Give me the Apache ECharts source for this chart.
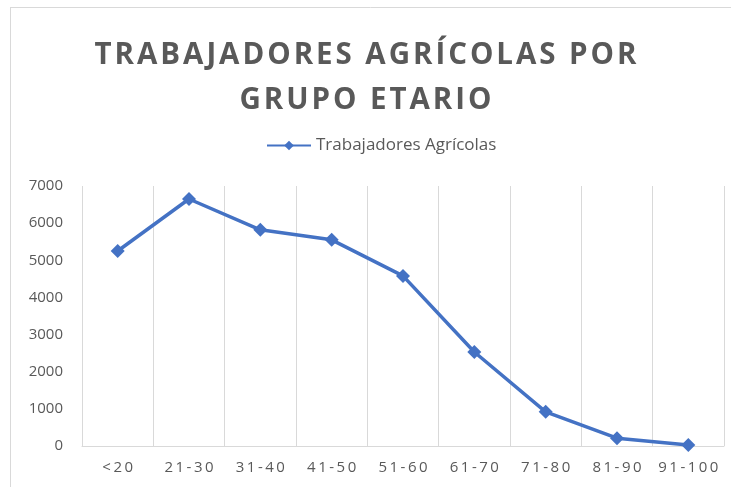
<!DOCTYPE html>
<html>
<head>
<meta charset="utf-8">
<script src="https://cdn.jsdelivr.net/npm/echarts@6/dist/echarts.min.js"></script>
<style>
  html, body { margin: 0; padding: 0; background: #fff; }
  #chart { width: 731px; height: 487px; }
</style>
</head>
<body>
<div id="chart"></div>
<script>
// grupos de edad y numero de trabajadores
var categorias = ['<20', '21-30', '31-40', '41-50', '51-60', '61-70', '71-80', '81-90', '91-100'];
var trabajadores = [5250, 6650, 5820, 5550, 4580, 2530, 920, 210, 30];
var yTicks = [0, 1000, 2000, 3000, 4000, 5000, 6000, 7000];

var gris = '#595959';
var azul = '#4472C4';

// espaciado entre letras como en el original
function espaciar(s, sep) {
  return s.split('\n').map(function (l) { return l.split('').join(sep); }).join('\n');
}

var chart = echarts.init(document.getElementById('chart'));
chart.setOption({
  animation: false,
  backgroundColor: '#fff',
  title: {
    text: espaciar('TRABAJADORES AGRÍCOLAS POR\nGRUPO ETARIO', '\u200A'),
    left: 'center',
    top: 28,
    textStyle: {
      fontFamily: 'Open Sans',
      fontWeight: 'bold',
      fontSize: 29.5,
      lineHeight: 45,
      color: gris
    }
  },
  legend: {
    top: 132,
    left: 261,
    itemWidth: 44,
    itemHeight: 12,
    itemGap: 4,
    textStyle: { fontFamily: 'Open Sans', fontSize: 17, color: gris },
    data: ['Trabajadores Agrícolas']
  },
  grid: { left: 82, right: 7, top: 186, bottom: 41 },
  xAxis: {
    type: 'category',
    data: categorias,
    boundaryGap: true,
    axisLine: { lineStyle: { color: '#d9d9d9', width: 1 } },
    axisTick: { show: false },
    splitLine: { show: true, interval: 0, lineStyle: { color: '#d9d9d9', width: 1 } },
    axisLabel: {
      interval: 0,
      color: gris,
      fontFamily: 'Open Sans',
      fontSize: 15,
      margin: 14,
      formatter: function (v) { return espaciar(v, '\u2009'); }
    }
  },
  yAxis: {
    type: 'value',
    min: yTicks[0],
    max: yTicks[yTicks.length - 1],
    interval: 1000,
    axisLine: { show: false },
    axisTick: { show: false },
    splitLine: { show: false },
    axisLabel: {
      color: gris,
      fontFamily: 'Open Sans',
      fontSize: 15,
      margin: 19,
      formatter: function (v) { return String(v); }
    }
  },
  graphic: [
    { type: 'line', shape: { x1: 10, y1: 7.5, x2: 731, y2: 7.5 }, style: { stroke: '#d9d9d9', lineWidth: 1 } },
    { type: 'line', shape: { x1: 10.5, y1: 7, x2: 10.5, y2: 487 }, style: { stroke: '#d9d9d9', lineWidth: 1 } }
  ],
  series: [{
    name: 'Trabajadores Agrícolas',
    type: 'line',
    data: trabajadores,
    symbol: 'diamond',
    symbolSize: 14,
    lineStyle: { color: azul, width: 3.5 },
    itemStyle: { color: azul }
  }]
});
</script>
</body>
</html>
